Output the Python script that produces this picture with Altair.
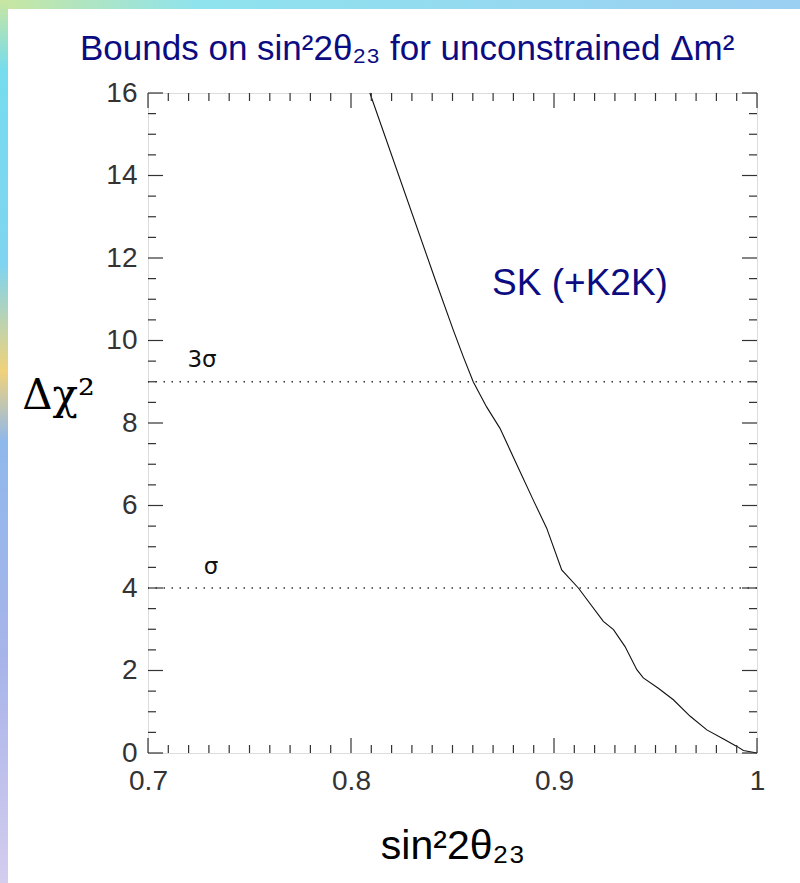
import altair as alt
import pandas as pd

# ---- data ----
sin2 = [0.8093, 0.8416, 0.8504, 0.8553, 0.8602, 0.8668, 0.8734, 0.8833, 0.8898,
        0.8964, 0.9038, 0.9120, 0.9243, 0.9293, 0.9350, 0.9408, 0.9440, 0.9514,
        0.9588, 0.9671, 0.9753, 0.9835, 0.9901, 0.9933, 1.0]
dchi2 = [16.0, 11.46, 10.25, 9.61, 9.0, 8.39, 7.87, 6.82, 6.13,
         5.45, 4.44, 4.0, 3.19, 2.99, 2.58, 2.02, 1.82, 1.57,
         1.29, 0.89, 0.56, 0.34, 0.16, 0.06, 0.0]

cl_levels = [9, 4]
cl_labels = ["3σ", "σ"]
cl_label_x = [0.7266, 0.731]
cl_label_y = [9.52, 4.5]

x_major = [0.7, 0.8, 0.9, 1.0]
x_minor = [round(0.7 + i * 0.01, 2) for i in range(31) if i % 10 != 0]
y_major = [0, 2, 4, 6, 8, 10, 12, 14, 16]
y_minor = [i * 0.5 for i in range(33) if i % 4 != 0]

title_text = "Bounds on sin²2θ₂₃ for unconstrained Δm²"

W, H = 609, 660
NAVY = "#0c0c82"

xs = alt.Scale(domain=[0.7, 1.0], nice=False, zero=False)
ys = alt.Scale(domain=[0, 16], nice=False, zero=False)

x_axis = alt.Axis(values=x_major, format="~g", ticks=False, domain=False, grid=False,
                  labelFontSize=28, labelFont="Liberation Sans", labelColor="#333333",
                  labelPadding=14, labelFlush=False,
                  title="sin²2θ₂₃", titleFontSize=41, titleFont="Liberation Sans",
                  titleFontWeight="normal", titleColor="#000000",
                  titleBaseline="alphabetic", titleY=105)
y_axis = alt.Axis(values=y_major, format="d", ticks=False, domain=False, grid=False,
                  labelFontSize=28, labelFont="Liberation Sans", labelColor="#333333",
                  labelPadding=11, labelFlush=False,
                  title="Δχ²", titleFontSize=42, titleFont="DejaVu Serif",
                  titleFontWeight="normal", titleColor="#000000", titleAngle=0,
                  titleAlign="center", titleBaseline="middle", titleX=-90, titleY=302)


def X(field):
    return alt.X(f"{field}:Q", scale=xs, axis=x_axis)


def Y(field):
    return alt.Y(f"{field}:Q", scale=ys, axis=y_axis)


curve_df = pd.DataFrame({"s": sin2, "c": dchi2})
line = alt.Chart(curve_df).mark_line(color="#111111", strokeWidth=1.1).encode(
    x=X("s"), y=Y("c"), order="s:Q")

cl_df = pd.DataFrame({"lvl": cl_levels})
dots = alt.Chart(cl_df).mark_rule(color="#333333", strokeWidth=1.3,
                                  strokeDash=[1.5, 6.5]).encode(y=Y("lvl"))

lab_df = pd.DataFrame({"t": cl_labels, "lx": cl_label_x, "ly": cl_label_y})
cl_text = alt.Chart(lab_df).mark_text(fontSize=23, font="DejaVu Sans", color="#111111",
                                      baseline="middle", align="center").encode(
    x=X("lx"), y=Y("ly"), text="t:N")

sk_df = pd.DataFrame({"t": ["SK (+K2K)"], "lx": [0.9128], "ly": [11.36]})
sk_text = alt.Chart(sk_df).mark_text(fontSize=37, font="Liberation Sans", color=NAVY,
                                     baseline="middle", align="center").encode(
    x=X("lx"), y=Y("ly"), text="t:N")

title_df = pd.DataFrame({"t": [title_text]})
title_mark = alt.Chart(title_df).mark_text(fontSize=35, font="Liberation Sans", color=NAVY,
                                           align="left", baseline="alphabetic").encode(
    x=alt.value(-68), y=alt.value(-33), text="t:N")

# decorative slide edges
deco_df = pd.DataFrame({"d": [0]})
top_band = alt.Chart(deco_df).mark_rect(
    color=alt.Gradient(gradient="linear", x1=0, x2=1, y1=0, y2=0,
                       stops=[alt.GradientStop(offset=0, color="#c8e6a0"),
                              alt.GradientStop(offset=0.25, color="#8ee3ee"),
                              alt.GradientStop(offset=1, color="#9ccff2")])).encode(
    x=alt.value(-148), x2=alt.value(652), y=alt.value(-93), y2=alt.value(-84))
left_band = alt.Chart(deco_df).mark_rect(
    color=alt.Gradient(gradient="linear", x1=0, x2=0, y1=0, y2=1,
                       stops=[alt.GradientStop(offset=0, color="#c8e6a0"),
                              alt.GradientStop(offset=0.08, color="#76dcee"),
                              alt.GradientStop(offset=0.3, color="#7fd4f0"),
                              alt.GradientStop(offset=0.42, color="#f0d27a"),
                              alt.GradientStop(offset=0.5, color="#8fb8ec"),
                              alt.GradientStop(offset=0.75, color="#a8b4ea"),
                              alt.GradientStop(offset=1, color="#d4cdee")])).encode(
    x=alt.value(-148), x2=alt.value(-140), y=alt.value(-93), y2=alt.value(790))


def xticks(vals, length, top):
    df = pd.DataFrame({"tv": vals})
    y0, y1 = (0, length) if top else (H, H - length)
    return alt.Chart(df).mark_rule(color="#333333", strokeWidth=1.2).encode(
        x=X("tv"), y=alt.value(y0), y2=alt.value(y1))


def yticks(vals, length, right):
    df = pd.DataFrame({"tv": vals})
    x0, x1 = (W, W - length) if right else (0, length)
    return alt.Chart(df).mark_rule(color="#333333", strokeWidth=1.2).encode(
        y=Y("tv"), x=alt.value(x0), x2=alt.value(x1))


tick_layers = [
    xticks(x_major, 15, False), xticks(x_minor, 8, False),
    xticks(x_major, 15, True), xticks(x_minor, 8, True),
    yticks(y_major, 15, False), yticks(y_minor, 8, False),
    yticks(y_major, 15, True), yticks(y_minor, 8, True),
]

chart = alt.layer(top_band, left_band, line, dots, cl_text, sk_text, title_mark,
                  *tick_layers).properties(
    width=W, height=H,
    autosize=alt.AutoSizeParams(type="none"),
    padding={"left": 148, "top": 93, "right": 43, "bottom": 130},
).configure_view(stroke="#333333", strokeWidth=1.3).configure(background="white")

chart.save("out.html", embed_options={"renderer": "svg", "actions": False})
